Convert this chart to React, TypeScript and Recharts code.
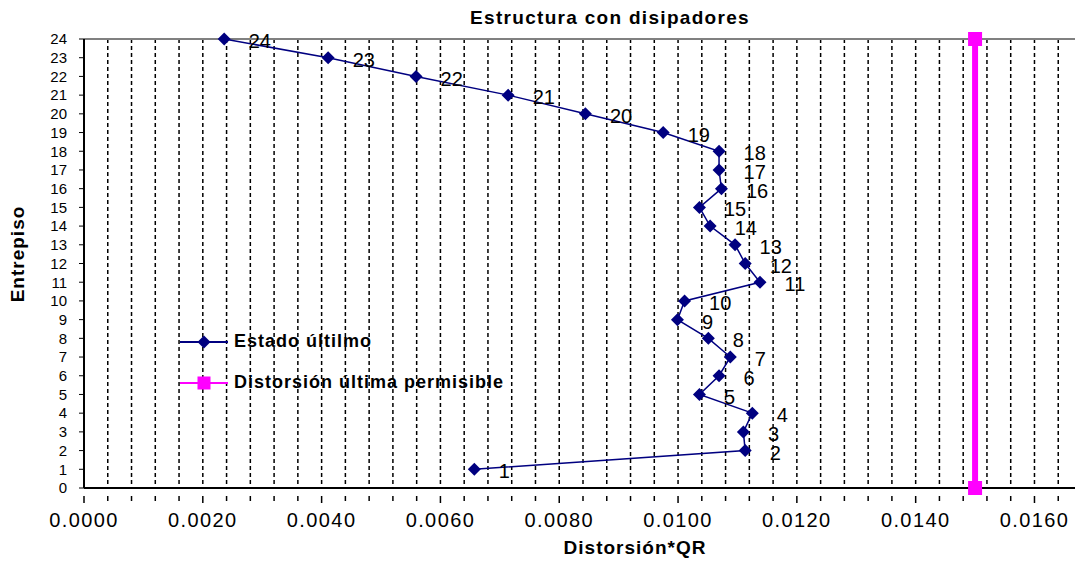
import React from "react";
import {
  ScatterChart,
  Scatter,
  XAxis,
  YAxis,
  CartesianGrid,
  ReferenceLine,
  LabelList,
  Legend,
} from "recharts";

// entrepiso (story) and drift
const stories = [1, 2, 3, 4, 5, 6, 7, 8, 9, 10, 11, 12, 13, 14, 15, 16, 17, 18, 19, 20, 21, 22, 23, 24];
const drifts = [
  0.00657, 0.01113, 0.0111, 0.01125, 0.01036, 0.01069, 0.01088, 0.01051, 0.00999, 0.01011, 0.01138, 0.01113,
  0.01096, 0.01054, 0.01036, 0.01073, 0.01069, 0.01069, 0.00975, 0.00844, 0.00714, 0.00559, 0.00411, 0.00236,
];
const limitDrift = [0.015, 0.015];
const limitStories = [0, 24];

const majorTicks = [0, 0.002, 0.004, 0.006, 0.008, 0.01, 0.012, 0.014, 0.016];
const gridTicks = Array.from({ length: 43 }, (_, i) => Math.round(i * 4) / 10000);
const storyTicks = Array.from({ length: 25 }, (_, i) => i);

const seriesName = "Estado últilmo";
const limitName = "Distorsión última permisible";

const NAVY = "#000080";
const MAGENTA = "#FF00FF";
const FONT = '"Liberation Sans", Arial, sans-serif';

const driftData = stories.map((s, i) => ({ x: drifts[i], y: s }));
const limitData = limitStories.map((s, i) => ({ x: limitDrift[i], y: s }));

const Diamond = (props: any) => {
  const { cx, cy } = props;
  const r = 6.5;
  return <polygon points={`${cx},${cy - r} ${cx + r},${cy} ${cx},${cy + r} ${cx - r},${cy}`} fill={NAVY} />;
};

const Square = (props: any) => {
  const { cx, cy } = props;
  return <rect x={cx - 7} y={cy - 7} width={14} height={14} fill={MAGENTA} />;
};

const XTick = (props: any) => {
  const { x, y, payload } = props;
  const v = payload.value;
  const major = majorTicks.some((m) => Math.abs(m - v) < 1e-9);
  return (
    <g>
      <line x1={x} y1={y} x2={x} y2={y + (major ? 7 : 5)} stroke="#000" strokeWidth={1.5} />
      {major && (
        <text x={x} y={y + 31} textAnchor="middle" fontSize={20} fill="#000" fontFamily={FONT} letterSpacing={1.4}>
          {v.toFixed(4)}
        </text>
      )}
    </g>
  );
};

const LegendBox = () => (
  <div style={{ fontFamily: FONT, fontWeight: "bold", fontSize: 18, color: "#000", letterSpacing: 1 }}>
    <div style={{ display: "flex", alignItems: "center", height: 41 }}>
      <svg width={54} height={20}>
        <line x1={0} y1={10} x2={48} y2={10} stroke={NAVY} strokeWidth={2} />
        <polygon points="24,3.5 30.5,10 24,16.5 17.5,10" fill={NAVY} />
      </svg>
      <span>{seriesName}</span>
    </div>
    <div style={{ display: "flex", alignItems: "center", height: 41 }}>
      <svg width={54} height={20}>
        <line x1={0} y1={10} x2={48} y2={10} stroke={MAGENTA} strokeWidth={2} />
        <rect x={17.5} y={3.5} width={13} height={13} fill={MAGENTA} />
      </svg>
      <span>{limitName}</span>
    </div>
  </div>
);

export default function App() {
  return (
    <div style={{ position: "relative", width: 1075, height: 555, fontFamily: FONT }}>
      <div
        style={{
          position: "absolute",
          left: 0,
          width: 1204,
          top: -1,
          textAlign: "center",
          fontWeight: "bold",
          fontSize: 19,
          letterSpacing: 1.3,
        }}
      >
        Estructura con disipadores
      </div>
      <div
        style={{
          position: "absolute",
          left: 10,
          top: 246,
          transform: "translate(-50%, -50%) rotate(-90deg)",
          fontWeight: "bold",
          fontSize: 19,
          letterSpacing: 1,
          whiteSpace: "nowrap",
        }}
      >
        Entrepiso
      </div>
      <div
        style={{
          position: "absolute",
          left: 0,
          width: 1254,
          top: 529,
          textAlign: "center",
          fontWeight: "bold",
          fontSize: 19,
          letterSpacing: 1,
        }}
      >
        Distorsión*QR
      </div>
      <ScatterChart width={1075} height={555} margin={{ top: 31, right: 1, left: 0, bottom: 0 }}>
        <CartesianGrid horizontal={false} stroke="#000" strokeDasharray="4 3" strokeWidth={1.5} />
        <XAxis
          type="number"
          dataKey="x"
          domain={[0, 0.0168]}
          ticks={gridTicks}
          interval={0}
          height={75}
          axisLine={{ stroke: "#000", strokeWidth: 2 }}
          tickLine={false}
          tick={<XTick />}
        />
        <YAxis
          type="number"
          dataKey="y"
          domain={[0, 24]}
          ticks={storyTicks}
          interval={0}
          width={76}
          tickSize={5}
          tickMargin={12}
          axisLine={{ stroke: "#000", strokeWidth: 2 }}
          tickLine={{ stroke: "#000" }}
          tick={{ fontSize: 15, fill: "#000", fontFamily: FONT }}
        />
        <ReferenceLine y={24} stroke="#808080" strokeWidth={2} />
        <Scatter
          name={limitName}
          data={limitData}
          fill={MAGENTA}
          line={{ stroke: MAGENTA, strokeWidth: 6 }}
          shape={<Square />}
          isAnimationActive={false}
        />
        <Scatter
          name={seriesName}
          data={driftData}
          fill={NAVY}
          line={{ stroke: NAVY, strokeWidth: 1.5 }}
          shape={<Diamond />}
          isAnimationActive={false}
        >
          <LabelList
            dataKey="y"
            position="right"
            offset={20}
            fontSize={20}
            fill="#000"
            fontFamily={FONT}
            dy={2}
          />
        </Scatter>
        <Legend
          verticalAlign="middle"
          align="center"
          content={<LegendBox />}
          wrapperStyle={{ position: "absolute", left: 172, top: 313, width: "auto" }}
        />
      </ScatterChart>
    </div>
  );
}
